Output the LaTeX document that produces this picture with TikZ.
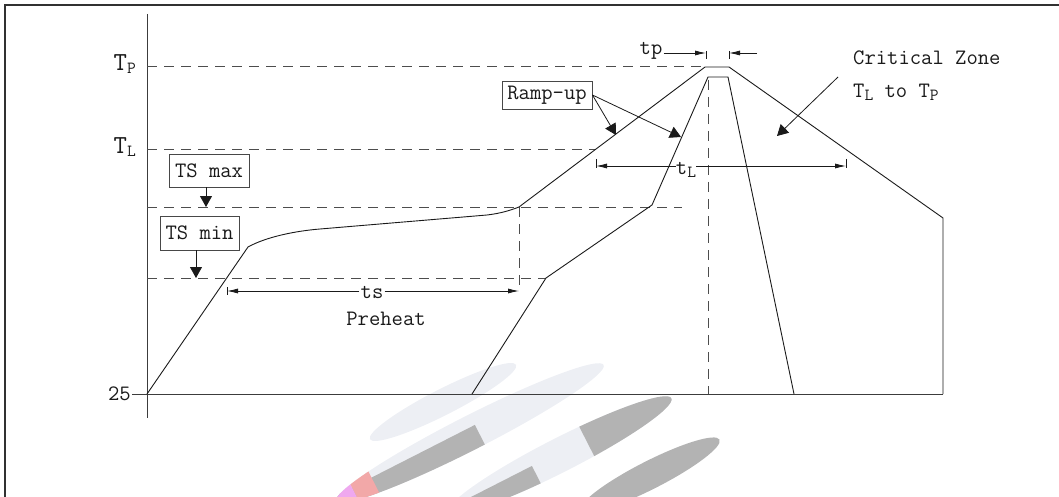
\documentclass[tikz,border=0pt]{standalone}
\usetikzlibrary{arrows.meta}
\definecolor{wmlight}{HTML}{EDEFF4}
\definecolor{wmgray}{HTML}{B3B3B3}
\definecolor{wmpink}{HTML}{F2A8A8}
\definecolor{wmmag}{HTML}{EFA8EF}
\definecolor{ink}{HTML}{1A1A1A}
\definecolor{guidegray}{HTML}{4D4D4D}
\newcommand\lowsub[1]{\raisebox{-3pt}{\fontsize{17}{17}\selectfont #1}}
\begin{document}
\begin{tikzpicture}[x=1pt,y=-1pt,
  font=\fontsize{22}{26}\selectfont\ttfamily,
  curve/.style={line width=0.9pt, draw=ink, line join=miter},
  guide/.style={draw=guidegray, line width=1pt, dash pattern=on 10pt off 7pt},
  axisline/.style={draw=ink!85, line width=1pt},
  lbl/.style={draw=ink!80, line width=0.9pt, inner xsep=5pt, inner ysep=0pt, minimum height=31pt, text=ink},
  lblarrow/.style={line width=0.8pt, draw=ink, -{Triangle[length=11pt,width=12pt]}},
  dimarrow/.style={line width=0.8pt, draw=ink, -{Latex[length=11pt,width=5pt]}},
  dimtick/.style={line width=1pt, draw=ink},
  plain/.style={inner sep=1pt, text=ink}]
\useasboundingbox (0,0) rectangle (1059,497);

% ---- watermark (faint) ----
\begin{scope}
  \fill[wmlight, rotate around={27:(443,402)}] (443,402) ellipse (82 and 13);
  \fill[wmlight, rotate around={27:(470,433)}] (470,433) ellipse (150 and 17);
  \begin{scope}
    \clip[rotate around={27:(470,433)}] (470,433) ellipse (150 and 17);
    \fill[wmgray, rotate around={27:(470,433)}] (300,428) rectangle (478,452);
    \fill[wmpink, rotate around={27:(470,433)}] (340,420) rectangle (362,452);
    \fill[wmmag, rotate around={27:(470,433)}] (320,420) rectangle (340,452);
  \end{scope}
  \fill[wmlight, rotate around={27:(560,455)}] (560,455) ellipse (125 and 17);
  \begin{scope}
    \clip[rotate around={27:(560,455)}] (560,455) ellipse (125 and 17);
    \fill[wmgray, rotate around={27:(560,455)}] (590,430) rectangle (700,480);
    \fill[wmgray, rotate around={27:(560,455)}] (420,452) rectangle (530,480);
  \end{scope}
  \fill[wmgray, rotate around={27:(650,475)}] (650,475) ellipse (78 and 14);
\end{scope}

% ---- frame (top and left edges) ----
\draw[line width=2.2pt, draw=ink!90] (5,497) -- (5,5) -- (1059,5);

% ---- axes ----
\coordinate (yTop) at (147,14);
\coordinate (yBot) at (147,418);
\coordinate (xL) at (132,394);
\coordinate (xR) at (943,394);
\draw[axisline] (yTop) -- (yBot);
\draw[axisline] (xL) -- (xR);

% ---- axis labels ----
\node[plain, anchor=east, font=\fontsize{26}{28}\selectfont\ttfamily] (lTp) at (137,64) {T\lowsub{P}};
\node[plain, anchor=east, font=\fontsize{26}{28}\selectfont\ttfamily] (lTl) at (137,147) {T\lowsub{L}};
\node[plain, anchor=east] (l25) at (132,394) {25};

% ---- guide lines ----
\draw[guide] (147,67) -- (705,67);
\draw[guide] (147,150) -- (596,150);
\draw[guide] (147,207) -- (682,207);
\draw[guide] (147,278) -- (546,278);
\draw[guide] (519,207) -- (519,292);
\draw[guide] (708,80) -- (708,394);

% ---- profile curves ----
\draw[curve] (147,394) -- (248,247) .. controls (266,237) and (295,231) .. (320,229)
  -- (487,215) .. controls (500,213.5) and (510,210.5) .. (519,207)
  -- (705,67) -- (729,67) -- (943,218) -- (943,394);
\draw[curve] (472,394) -- (546,278) -- (652,205) -- (708,77) -- (728,77) -- (794,394);

% ---- label boxes ----
\node[lbl, minimum width=80pt, minimum height=33pt] (tsmax) at (209,170.5) {TS max};
\node[lbl, minimum width=79pt, minimum height=34pt] (tsmin) at (199.5,233) {TS min};
\node[lbl, minimum width=90pt, minimum height=28pt] (ramp) at (547,95) {Ramp-up};
\coordinate (tsmaxTip) at (206,207);
\coordinate (tsminTip) at (196,278);
\draw[lblarrow] (tsmax.south -| tsmaxTip) -- (tsmaxTip);
\draw[lblarrow] (tsmin.south -| tsminTip) -- (tsminTip);
\coordinate (rampTipA) at (616,135);
\coordinate (rampTipB) at (681,137);
\draw[lblarrow] (ramp.east) -- (rampTipA);
\draw[lblarrow] (ramp.east) -- (rampTipB);

% ---- critical zone ----
\node[plain, anchor=west, align=left, font=\fontsize{22}{33}\selectfont\ttfamily] (cz) at (852,76)
  {Critical Zone\\T\lowsub{L} to T\lowsub{P}};
\coordinate (czStart) at (838,77);
\coordinate (czTip) at (777,136);
\draw[lblarrow] (czStart) -- (czTip);

% ---- tp dimension ----
\node[plain] (tp) at (651,51) {tp};
\coordinate (tpL) at (706,53);
\coordinate (tpR) at (729,53);
\coordinate (tpRs) at (757,53);
\draw[dimarrow] (tp.east |- tpL) -- (tpL);
\draw[dimarrow] (tpRs) -- (tpR);
\draw[dimtick] (706,51) -- (706,59);
\draw[dimtick] (729,51) -- (729,59);

% ---- tL dimension ----
\node[plain, inner sep=0pt] (tL) at (686,170) {t\lowsub{L}};
\coordinate (tLl) at (596,166);
\coordinate (tLr) at (846,166);
\draw[dimarrow] (tL.west |- tLl) -- (tLl);
\draw[dimarrow] (tL.east |- tLr) -- (tLr);
\draw[dimtick] (596,159) -- (596,168);
\draw[dimtick] (846,159) -- (846,168);

% ---- ts dimension ----
\node[plain] (ts) at (372,292) {ts};
\node[plain] (pre) at (386,319) {Preheat};
\coordinate (tsl) at (227,291);
\coordinate (tsr) at (519,291);
\draw[dimarrow] (ts.west |- tsl) -- (tsl);
\draw[dimarrow] (ts.east |- tsr) -- (tsr);
\draw[dimtick] (227,287) -- (227,295);
\end{tikzpicture}
\end{document}
